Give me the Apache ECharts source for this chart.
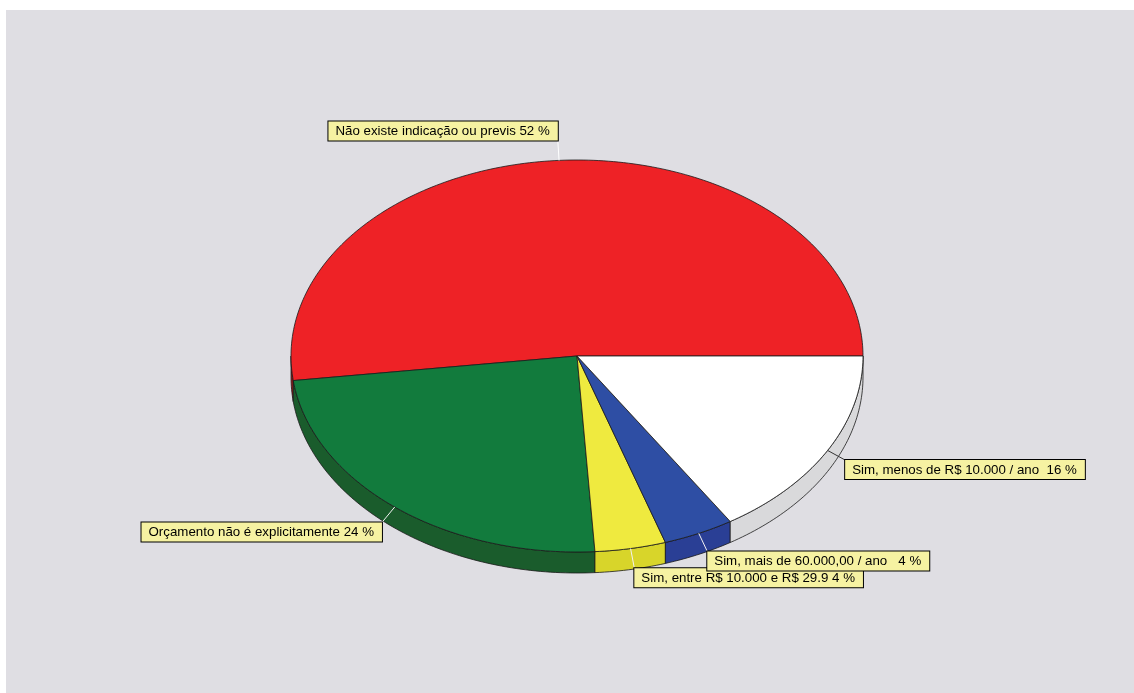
<!DOCTYPE html>
<html>
<head>
<meta charset="utf-8">
<script src="https://cdn.jsdelivr.net/npm/echarts@6/dist/echarts.min.js"></script>
<style>
html,body{margin:0;padding:0;background:#ffffff;}
#main{width:1134px;height:693px;}
</style>
</head>
<body>
<div id="main"></div>
<script>
// ---- data ----
const categories = [
  'Não existe indicação ou previs',
  'Orçamento não é explicitamente',
  'Sim, entre R$ 10.000 e R$ 29.9',
  'Sim, mais de 60.000,00 / ano  ',
  'Sim, menos de R$ 10.000 / ano '
];
const values = [52, 24, 4, 4, 16];

// ---- styles ----
const topColors  = ['#ee2226', '#127b3d', '#efea3f', '#2e4ea4', '#ffffff'];
const sideColors = ['#a61a1c', '#1a5c2c', '#d8d52a', '#2a3f95', '#d9d9db'];
const leaderColors = ['#ffffff', '#f2f2f2', '#f2f2f2', '#f2f2f2', '#333333'];

// ---- layout ----
const CX = 577, CY = 356, RX = 286, RY = 196, DEPTH = 21, LEAD = 20;

const total = values.reduce((a, b) => a + b, 0);
const cum = [];
values.reduce((acc, v, i) => { cum[i] = acc; return acc + v; }, 0);
const seriesData = values.map((v, i) => [v, cum[i], i]);

function ellPt(a, dy) {
  const r = a * Math.PI / 180;
  return [CX + RX * Math.cos(r), CY - RY * Math.sin(r) + (dy || 0)];
}
function arcPts(a1, a2, dy) {
  const pts = [];
  const n = Math.max(2, Math.ceil(Math.abs(a2 - a1)));
  for (let k = 0; k <= n; k++) pts.push(ellPt(a1 + (a2 - a1) * k / n, dy));
  return pts;
}

function renderItem(params, api) {
  const v = api.value(0), start = api.value(1), idx = api.value(2);
  const a1 = start / total * 360, a2 = (start + v) / total * 360;
  const children = [];
  const b1 = Math.max(a1, 180), b2 = Math.min(a2, 360);
  if (b2 > b1) {
    children.push({
      type: 'polygon', z2: 1,
      shape: { points: arcPts(b1, b2, 0).concat(arcPts(b2, b1, DEPTH)) },
      style: { fill: sideColors[idx], stroke: '#1b1b1b', lineWidth: 0.8 }
    });
  }
  children.push({
    type: 'polygon', z2: 2,
    shape: { points: [[CX, CY]].concat(arcPts(a1, a2, 0)) },
    style: { fill: topColors[idx], stroke: '#1b1b1b', lineWidth: 0.8 }
  });
  const mid = (a1 + a2) / 2, mr = mid * Math.PI / 180;
  const c = Math.cos(mr), s = Math.sin(mr);
  const p = ellPt(mid, 0);
  const e = [p[0] + LEAD * c, p[1] - LEAD * s];
  children.push({
    type: 'line', z2: 3,
    shape: { x1: p[0], y1: p[1], x2: e[0], y2: e[1] },
    style: { stroke: leaderColors[idx], lineWidth: 1 }
  });
  children.push({
    type: 'text', z2: 4,
    x: e[0], y: e[1],
    style: {
      text: categories[idx] + ' ' + values[idx] + ' %',
      align: c < 0 ? 'right' : 'left',
      verticalAlign: s > 0 ? 'bottom' : 'top',
      font: '13.3px "Liberation Sans", Arial, sans-serif',
      fill: '#000000',
      lineHeight: 14,
      backgroundColor: '#f6f2a2',
      borderColor: '#000000',
      borderWidth: 1,
      padding: [3, 8, 2, 7]
    }
  });
  return { type: 'group', children: children };
}

const chart = echarts.init(document.getElementById('main'));
chart.setOption({
  backgroundColor: '#ffffff',
  animation: false,
  graphic: [{
    type: 'rect', z: -10,
    shape: { x: 6, y: 10, width: 1128, height: 683 },
    style: { fill: '#dfdee3' }
  }],
  series: [{
    type: 'custom',
    coordinateSystem: 'none',
    renderItem: renderItem,
    data: seriesData
  }]
});
</script>
</body>
</html>
